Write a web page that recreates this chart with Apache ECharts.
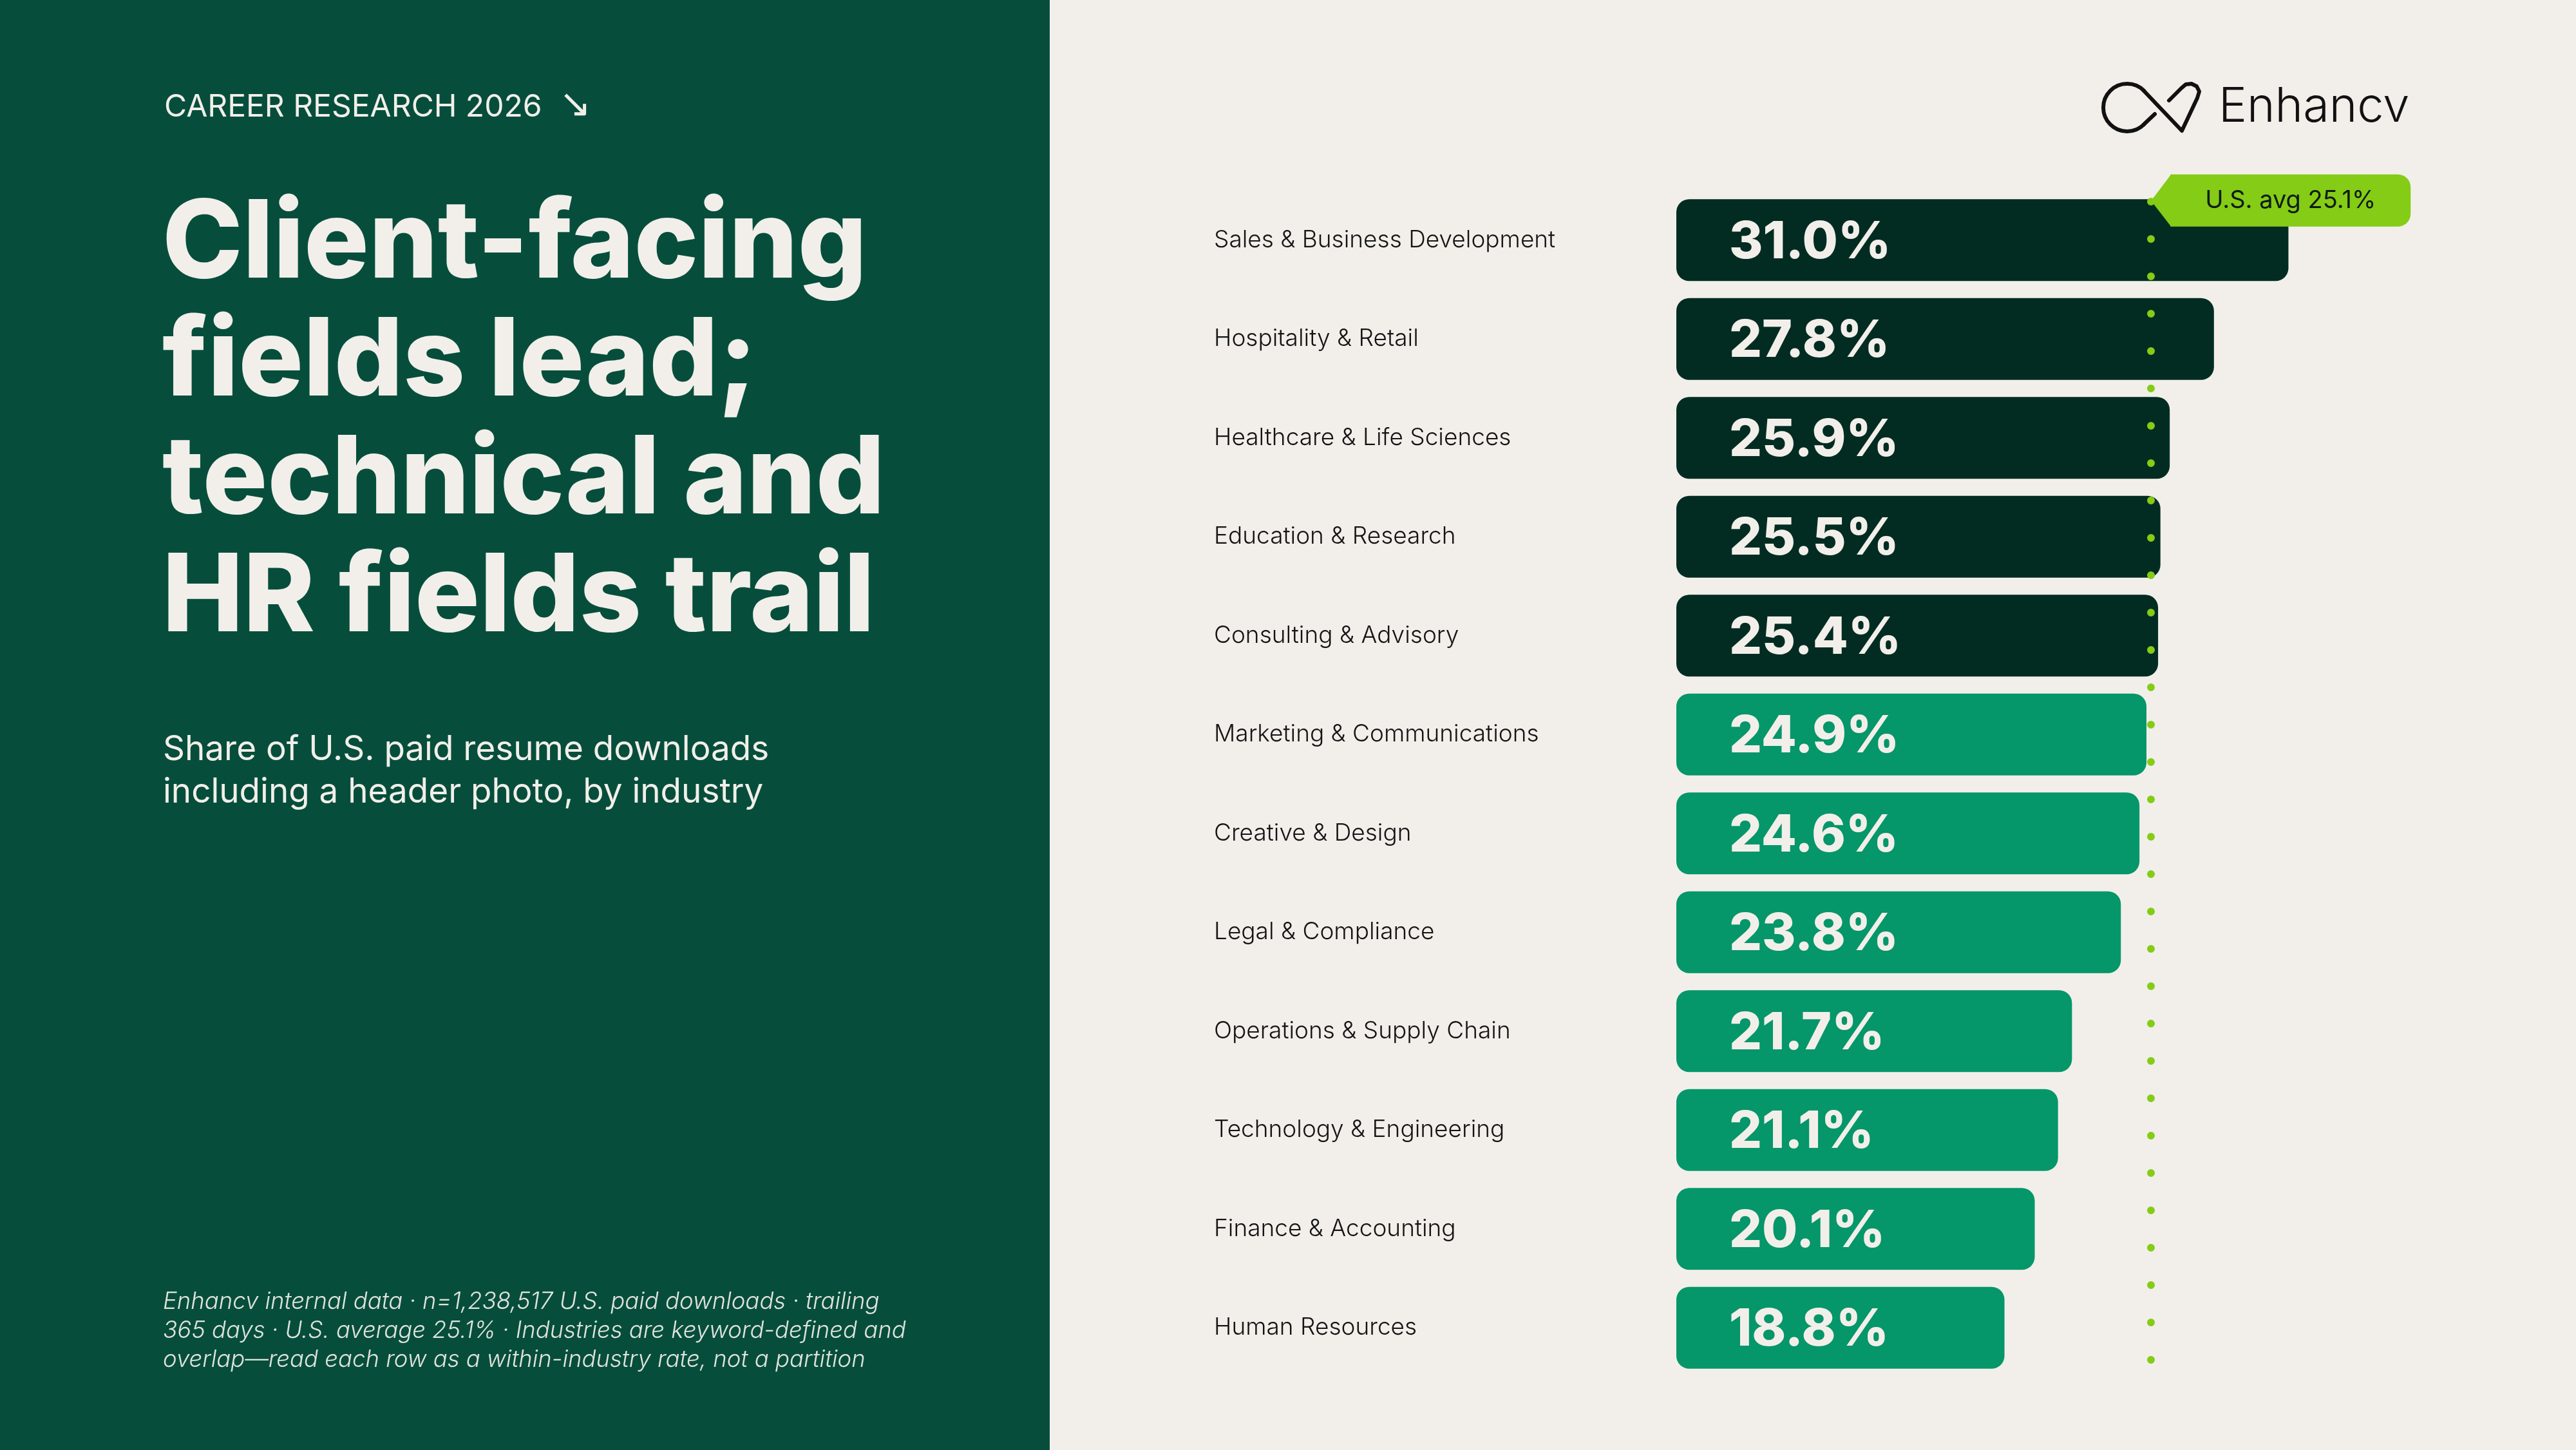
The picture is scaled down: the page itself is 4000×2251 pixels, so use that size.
<!DOCTYPE html>
<html>
<head>
<meta charset="utf-8" />
<title>Client-facing fields lead</title>
<style>
  html, body { margin: 0; padding: 0; background: #F2EFEA; }
  #barChart { width: 4000px; height: 2251px; }
</style>
</head>
<body>
<div id="barChart"></div>
<script src="https://cdn.jsdelivr.net/npm/echarts@6/dist/echarts.min.js"></script>
<script>
// data
var industries = [
  'Sales & Business Development',
  'Hospitality & Retail',
  'Healthcare & Life Sciences',
  'Education & Research',
  'Consulting & Advisory',
  'Marketing & Communications',
  'Creative & Design',
  'Legal & Compliance',
  'Operations & Supply Chain',
  'Technology & Engineering',
  'Finance & Accounting',
  'Human Resources'
];
var shares = [31.0, 27.8, 25.9, 25.5, 25.4, 24.9, 24.6, 23.8, 21.7, 21.1, 20.1, 18.8];
var usAvg = 25.1;

var kicker = 'CAREER RESEARCH 2026';
var titleLines = ['Client-facing', 'fields lead;', 'technical and', 'HR fields trail'];
var subtitleLines = ['Share of U.S. paid resume downloads', 'including a header photo, by industry'];
var noteLines = [
  'Enhancv internal data \u00b7 n=1,238,517 U.S. paid downloads \u00b7 trailing',
  '365 days \u00b7 U.S. average 25.1% \u00b7 Industries are keyword-defined and',
  'overlap\u2014read each row as a within-industry rate, not a partition'
];

var cream = '#F2EFEA';
var darkBar = '#022C22';
var greenBar = '#059669';
var lime = '#84CC16';
var font = 'Inter, "Noto Sans", sans-serif';

var barChart = echarts.init(document.getElementById('barChart'));

var option = {
  backgroundColor: cream,
  animation: false,
  grid: {
    left: 2603,
    top: 296,
    width: 1142,
    height: 1842
  },
  xAxis: {
    type: 'value',
    min: 4.7,
    max: 36.3,
    show: false
  },
  yAxis: {
    type: 'category',
    data: industries,
    inverse: true,
    axisLine: { show: false },
    axisTick: { show: false },
    splitLine: { show: false },
    axisLabel: {
      align: 'left',
      margin: 718,
      fontSize: 37,
      fontWeight: 300,
      fontFamily: font,
      color: '#141414'
    }
  },
  series: [{
    name: 'share',
    type: 'bar',
    data: shares,
    barWidth: 127,
    silent: true,
    itemStyle: {
      borderRadius: 20,
      color: function (p) {
        return p.value >= usAvg ? darkBar : greenBar;
      }
    },
    label: {
      show: true,
      position: 'insideLeft',
      distance: 82,
      fontSize: 80,
      fontWeight: 800,
      fontFamily: font,
      color: cream,
      offset: [0, 4],
      formatter: function (p) {
        return p.value.toFixed(1) + '%';
      }
    },
    markLine: {
      silent: true,
      symbol: ['none', 'none'],
      label: { show: false },
      lineStyle: {
        color: lime,
        width: 12,
        type: [0, 58],
        dashOffset: 41,
        cap: 'round',
        opacity: 1
      },
      data: [{ xAxis: usAvg }]
    }
  }]
};
barChart.setOption(option);

// avg tag sits on the avg line, at the top of the first bar
var ax = barChart.convertToPixel({ xAxisIndex: 0 }, usAvg);
var firstY = barChart.convertToPixel({ yAxisIndex: 0 }, industries[0]);
var tagY = firstY - 61;
var tagR = ax + 403;

barChart.setOption({
  graphic: [
    // left panel
    {
      type: 'rect',
      z: -1,
      shape: { x: 0, y: 0, width: 1630, height: 2251 },
      style: { fill: '#064E3B' }
    },
    {
      type: 'text',
      x: 255, y: 167,
      style: {
        text: kicker, fill: cream, fontSize: 48, fontFamily: font,
        textVerticalAlign: 'middle'
      }
    },
    {
      type: 'text',
      x: 868, y: 165,
      style: {
        text: '\u2198', fill: cream, fontSize: 60, fontFamily: 'DejaVu Sans',
        textVerticalAlign: 'middle'
      }
    },
    {
      type: 'text',
      x: 252, y: 655,
      style: {
        text: titleLines.join('\n'), fill: cream, fontSize: 168, fontWeight: 800,
        fontFamily: font, lineHeight: 183, textVerticalAlign: 'middle'
      }
    },
    {
      type: 'text',
      x: 253, y: 1197,
      style: {
        text: subtitleLines.join('\n'), fill: cream, fontSize: 53,
        fontFamily: font, lineHeight: 66, textVerticalAlign: 'middle'
      }
    },
    {
      type: 'text',
      x: 253, y: 2066,
      style: {
        text: noteLines.join('\n'), fill: 'rgba(242,239,234,0.93)', fontSize: 36.5,
        fontStyle: 'italic', fontWeight: 300, fontFamily: font, lineHeight: 45,
        textVerticalAlign: 'middle'
      }
    },
    // logo mark
    {
      type: 'arc',
      shape: { cx: 3303, cy: 167, r: 37, startAngle: Math.PI / 4, endAngle: Math.PI * 7 / 4, clockwise: true },
      style: { fill: null, stroke: '#111', lineWidth: 6, lineCap: 'round' }
    },
    {
      type: 'polyline',
      shape: { points: [[3346, 177], [3329, 193]] },
      style: { fill: null, stroke: '#111', lineWidth: 6, lineCap: 'round' }
    },
    {
      type: 'polyline',
      shape: {
        points: [[3329, 141], [3388, 203], [3412, 152], [3415, 142], [3411, 134],
          [3403, 130], [3394, 131], [3387, 137], [3368, 156]]
      },
      style: { fill: null, stroke: '#111', lineWidth: 6, lineCap: 'round', lineJoin: 'round' }
    },
    {
      type: 'text',
      x: 3445, y: 167,
      style: {
        text: 'Enhancv', fill: '#111', fontSize: 74, fontWeight: 300,
        fontFamily: font, textVerticalAlign: 'middle'
      }
    },
    // avg tag
    {
      type: 'polygon',
      z: 10,
      shape: { points: [[ax, tagY], [ax + 31, tagY - 41], [ax + 31, tagY + 40]] },
      style: { fill: lime }
    },
    {
      type: 'rect',
      z: 10,
      shape: { x: ax + 30, y: tagY - 41, width: tagR - ax - 30, height: 81, r: [0, 20, 20, 0] },
      style: { fill: lime }
    },
    {
      type: 'text',
      z: 11,
      x: (ax + 30 + tagR) / 2, y: tagY,
      style: {
        text: 'U.S. avg ' + usAvg.toFixed(1) + '%', fill: '#0F1A14', fontSize: 38,
        fontFamily: font, textAlign: 'center', textVerticalAlign: 'middle'
      }
    }
  ]
});
</script>
</body>
</html>
